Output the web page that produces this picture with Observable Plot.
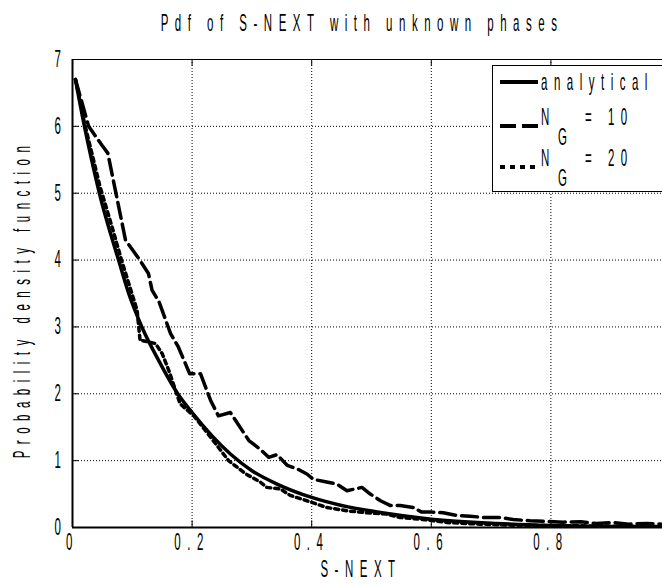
<!DOCTYPE html>
<html>
<head>
<meta charset="utf-8">
<script src="https://cdn.jsdelivr.net/npm/d3@7"></script>
<script src="https://cdn.jsdelivr.net/npm/@observablehq/plot@0.6"></script>
<style>
  html, body { margin: 0; padding: 0; background: white; overflow: hidden; }
  #chart { width: 662px; height: 585px; overflow: hidden; }
</style>
</head>
<body>
<div id="chart"></div>
<script>
// ---- Data ----
const titleText = "Pdf of S-NEXT with unknown phases";
const xLabel = "S-NEXT";
const yLabel = "Probability density function";
const xTicks = [0, 0.2, 0.4, 0.6, 0.8, 1];
const yTicks = [0, 1, 2, 3, 4, 5, 6, 7];
const seriesNames = ["analytical", "N_G = 10", "N_G = 20"];

const analyticX = [0.005, 0.02, 0.032, 0.045, 0.077, 0.094, 0.116, 0.144, 0.176, 0.2, 0.264, 0.3, 0.342, 0.4, 0.45, 0.515, 0.6, 0.71, 0.8, 0.9, 1.0];
const analyticY = [6.70, 6.0, 5.5, 5.0, 4.0, 3.5, 3.0, 2.5, 2.0, 1.72, 1.10, 0.85, 0.65, 0.45, 0.33, 0.225, 0.125, 0.06, 0.03, 0.015, 0.008];

const ng10X = [0.005, 0.027, 0.049, 0.059, 0.0886, 0.111, 0.127, 0.133, 0.145, 0.164, 0.177, 0.196, 0.214, 0.231, 0.244, 0.264, 0.295, 0.314, 0.328, 0.342, 0.359, 0.375, 0.392, 0.403, 0.425, 0.442, 0.459, 0.484, 0.498, 0.515, 0.531, 0.548, 0.57, 0.584, 0.601, 0.62, 0.643, 0.665, 0.687, 0.715, 0.737, 0.765, 0.793, 0.821, 0.85, 0.876, 0.905, 0.93, 0.96, 0.985, 1.0];
const ng10Y = [6.70, 6.0, 5.72, 5.6, 4.30, 4.02, 3.8, 3.55, 3.37, 2.90, 2.70, 2.30, 2.30, 1.90, 1.67, 1.72, 1.30, 1.17, 1.05, 1.09, 0.93, 0.88, 0.80, 0.72, 0.68, 0.65, 0.55, 0.60, 0.50, 0.40, 0.33, 0.33, 0.30, 0.23, 0.23, 0.22, 0.18, 0.17, 0.15, 0.15, 0.12, 0.10, 0.09, 0.08, 0.085, 0.06, 0.075, 0.05, 0.06, 0.05, 0.04];

const ng20X = [0.005, 0.02, 0.046, 0.066, 0.082, 0.108, 0.113, 0.125, 0.139, 0.15, 0.161, 0.18, 0.203, 0.231, 0.261, 0.29, 0.314, 0.325, 0.348, 0.364, 0.392, 0.425, 0.459, 0.492, 0.525, 0.548, 0.581, 0.626, 0.682, 0.737, 0.8, 0.9, 1.0];
const ng20Y = [6.70, 6.05, 5.1, 4.5, 4.0, 3.25, 2.8, 2.78, 2.75, 2.6, 2.35, 1.85, 1.67, 1.35, 1.0, 0.8, 0.68, 0.60, 0.575, 0.48, 0.40, 0.30, 0.25, 0.22, 0.20, 0.15, 0.125, 0.075, 0.05, 0.035, 0.03, 0.02, 0.015];

const toRows = (xs, ys) => xs.map((x, i) => ({x, y: ys[i]}));
const analytic = toRows(analyticX, analyticY);
const ng10 = toRows(ng10X, ng10Y);
const ng20 = toRows(ng20X, ng20Y);

const LW = 3.5;
const DASH = "16,6";
const DOT = "4,4";
const FONT = "'Liberation Sans', Arial, sans-serif";
const FS = 23;
const LS = 13;
const SX = 0.5;

const fmtX = d => d === 0 ? "0" : d3.format(".1f")(d);

const svg = Plot.plot({
  width: 662,
  height: 585,
  marginLeft: 72,
  marginRight: -8,
  marginTop: 59,
  marginBottom: 58,
  x: {domain: [0, 1], ticks: xTicks.slice(0, 5), tickFormat: fmtX, tickSize: 0, tickPadding: 6, label: null},
  y: {domain: [0, 7], ticks: yTicks, tickFormat: d => String(d), tickSize: 0, tickPadding: 5, label: null},
  marks: [
    // dotted grid
    Plot.ruleX(xTicks.filter(d => d > 0), {stroke: "black", strokeWidth: 1, strokeDasharray: "1,2"}),
    Plot.ruleY(yTicks.filter(d => d > 0 && d < 7), {stroke: "black", strokeWidth: 1, strokeDasharray: "1,2"}),
    // inward tick marks
    Plot.ruleX(xTicks, {y1: 0, y2: 0.1, stroke: "black", strokeWidth: 1}),
    Plot.ruleX(xTicks, {y1: 7, y2: 6.9, stroke: "black", strokeWidth: 1}),
    Plot.ruleY(yTicks, {x1: 0, x2: 0.011, stroke: "black", strokeWidth: 1}),
    // box
    Plot.ruleY([7], {stroke: "black", strokeWidth: 1}),
    // series
    Plot.line(analytic, {x: "x", y: "y", stroke: "black", strokeWidth: LW, curve: "monotone-x", clip: true}),
    Plot.line(ng10, {x: "x", y: "y", stroke: "black", strokeWidth: LW, strokeDasharray: DASH, clip: true}),
    Plot.line(ng20, {x: "x", y: "y", stroke: "black", strokeWidth: LW, strokeDasharray: DOT, clip: true}),
    // axes lines
    Plot.ruleX([0], {stroke: "black", strokeWidth: 2}),
    Plot.ruleY([0], {stroke: "black", strokeWidth: 2})
  ]
});

svg.style.fontFamily = FONT;
svg.style.fontSize = FS + "px";
svg.style.overflow = "hidden";
svg.style.color = "black";
svg.setAttribute("fill", "black");
document.getElementById("chart").appendChild(svg);

const s = d3.select(svg);
// Title
s.append("text").attr("x", 362).attr("y", 31).attr("text-anchor", "middle").text(titleText);
// X label
s.append("text").attr("x", 361).attr("y", 577).attr("text-anchor", "middle").text(xLabel);
// Y label
s.append("text").attr("transform", "translate(30,299) rotate(-90)").attr("text-anchor", "middle").text(yLabel);

// Legend
const lg = s.append("g").attr("text-anchor", "start");
lg.append("rect").attr("x", 492.5).attr("y", 65.5).attr("width", 200).attr("height", 126)
  .attr("fill", "white").attr("stroke", "black").attr("stroke-width", 1);
const rowsY = [82, 126, 167];
const dashes = [null, DASH, "5,5"];
rowsY.forEach((yy, i) => {
  const ln = lg.append("line").attr("x1", 500).attr("x2", 538).attr("y1", yy).attr("y2", yy)
    .attr("stroke", "black").attr("stroke-width", 4);
  if (dashes[i]) ln.attr("stroke-dasharray", dashes[i]);
});
lg.append("text").attr("x", 541).attr("y", 90).text(seriesNames[0]);
[1, 2].forEach(i => {
  const base = rowsY[i] - 1;
  const parts = seriesNames[i].split(" = ");
  lg.append("text").attr("x", 541).attr("y", base).text("N");
  lg.append("text").attr("x", 558).attr("y", base + 20).text("G");
  lg.append("text").attr("x", 585).attr("y", base).text("= " + parts[1]);
});

// Letter-spaced, condensed text (as in the reference), scaled around its anchor
svg.querySelectorAll("text").forEach(t => {
  t.setAttribute("letter-spacing", LS);
  t.style.letterSpacing = LS + "px";
});
svg.querySelectorAll("text").forEach(t => {
  const b = t.getBBox();
  const anchor = getComputedStyle(t).textAnchor;
  const ax = anchor === "end" ? b.x + b.width : anchor === "middle" ? b.x + b.width / 2 : b.x;
  const old = t.getAttribute("transform") || "";
  t.setAttribute("transform", `${old} translate(${ax},0) scale(${SX},1) translate(${-ax},0)`);
});
</script>
</body>
</html>
